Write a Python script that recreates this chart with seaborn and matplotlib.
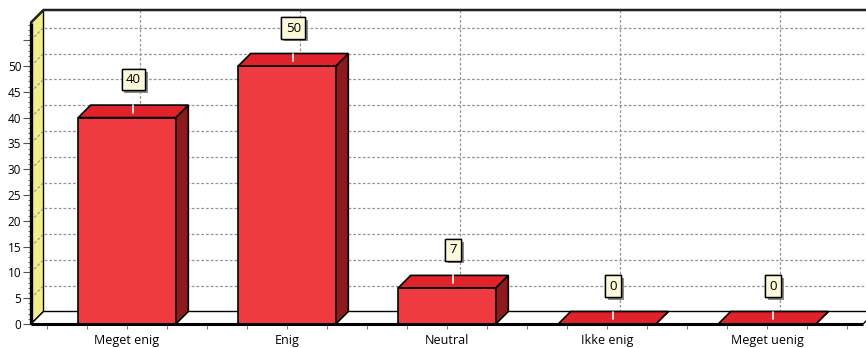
import matplotlib
matplotlib.use("Agg")
import matplotlib.pyplot as plt
from matplotlib.patches import Polygon
import matplotlib.patheffects as pe
import seaborn as sns
import pandas as pd
import numpy as np

# Survey answers
categories = ["Meget enig", "Enig", "Neutral", "Ikke enig", "Meget uenig"]
counts = [40, 50, 7, 0, 0]
y_ticks = [0, 5, 10, 15, 20, 25, 30, 35, 40, 45, 50, 55]
y_tick_labels = ["0", "5", "10", "15", "20", "25", "30", "35", "40", "45", "50", ""]

df = pd.DataFrame({"svar": categories, "antal": counts})

sns.set_theme(style="white")
plt.rcParams["font.family"] = ["Open Sans", "DejaVu Sans"]

FRONT = "#EF3A42"
TOP = "#E0232A"
SIDE = "#8C1A1F"
WALL = "#F3EE8C"
GRID = "#959595"

W, H = 866, 348
fig = plt.figure(figsize=(W / 100, H / 100), dpi=100)
fig.patch.set_facecolor("white")

# axes: front-left corner of the floor at pixel (31, 324)
px_per_x = 160.0
px_per_y = 5.16
x_lo, x_hi = -0.6, 4.6
ax_w = (x_hi - x_lo) * px_per_x
ax_h = 314
y_top = ax_h / px_per_y
ax = fig.add_axes([31 / W, (H - 324) / H, ax_w / W, ax_h / H])
ax.set_facecolor("none")

# depth of the 3D effect, in data units
dx = 12.5 / px_per_x
dy = 12.5 / px_per_y
wall_top = y_top - dy  # value at the top of the back wall

sns.barplot(data=df, x="svar", y="antal", ax=ax, color=FRONT, saturation=1,
            width=0.61, edgecolor="black", linewidth=1.2, zorder=5)

ax.set_xlim(x_lo, x_hi)
ax.set_ylim(0, y_top)
for s in ax.spines.values():
    s.set_visible(False)
ax.set_xlabel("")
ax.set_ylabel("")

# side wall (yellow)
ax.add_patch(Polygon([(x_lo, 0), (x_lo + dx, dy), (x_lo + dx, y_top), (x_lo, wall_top)],
                     closed=True, fc=WALL, ec="black", lw=1.0, zorder=1, clip_on=False))

# gridlines on side wall and back wall
x_far = x_hi + dx + 0.2
dash = (0, (2.2, 1.6))
for v in y_ticks[1:]:
    ax.plot([x_lo, x_lo + dx], [v, v + dy], color=GRID, lw=0.9,
            ls=dash, zorder=2, clip_on=False)
    ax.plot([x_lo + dx, x_far], [v + dy, v + dy], color=GRID, lw=0.9,
            ls=dash, zorder=2, clip_on=False)
for i in range(len(categories)):
    ax.plot([i + dx, i + dx], [dy, y_top], color=GRID, lw=0.9,
            ls=dash, zorder=2, clip_on=False)

# top edge of back wall
ax.plot([x_lo, x_lo + dx, x_far], [wall_top, y_top, y_top], color="#222222",
        lw=1.8, zorder=3, clip_on=False, solid_joinstyle="miter")

# floor
ax.add_patch(Polygon([(x_lo, 0), (x_hi, 0), (x_hi + dx, dy), (x_lo + dx, dy)],
                     closed=True, fc="white", ec="black", lw=1.0, zorder=3, clip_on=False))
ax.plot([x_lo, x_hi], [0, 0], color="black", lw=2.2, zorder=6, clip_on=False,
        solid_capstyle="butt")
# front vertical axis line
ax.plot([x_lo, x_lo], [0, wall_top], color="black", lw=2.4, zorder=6, clip_on=False,
        solid_capstyle="butt")

# 3D faces of each bar and the value labels
shadow = [pe.withSimplePatchShadow(offset=(2, -2), shadow_rgbFace="#8a8a8a", alpha=1.0),
          pe.Normal()]
for p, v in zip(ax.patches, counts):
    x0, w, h = p.get_x(), p.get_width(), p.get_height()
    ax.add_patch(Polygon([(x0 + w, 0), (x0 + w + dx, dy), (x0 + w + dx, h + dy), (x0 + w, h)],
                         closed=True, fc=SIDE, ec="black", lw=1.2, zorder=5))
    ax.add_patch(Polygon([(x0, h), (x0 + w, h), (x0 + w + dx, h + dy), (x0 + dx, h + dy)],
                         closed=True, fc=TOP, ec="black", lw=1.2, zorder=5))
    cx = x0 + w / 2 + dx / 2
    ax.plot([cx, cx], [h + dy * 0.38, h + dy], color="white", lw=1.2, zorder=7)
    t = ax.annotate(str(v), xy=(cx, h), xytext=(0, 38), textcoords="offset pixels",
                    ha="center", va="center", fontsize=9.5, color="black", zorder=9,
                    bbox=dict(boxstyle="square,pad=0.32", fc="#FBF9DA", ec="black", lw=1))
    t.get_bbox_patch().set_path_effects(shadow)

# ticks
ax.set_yticks(y_ticks)
ax.set_yticklabels(y_tick_labels)
ax.set_yticks(np.arange(0, 59, 1), minor=True)
ax.tick_params(axis="y", which="major", left=True, length=5.5, width=0.8, color="#555555",
               labelsize=8.5, pad=1.5, labelcolor="black")
ax.tick_params(axis="y", which="minor", left=True, length=2.5, width=0.7, color="#666666")

ax.set_xticks(range(len(categories)))
ax.set_xticklabels(categories)
ax.set_xticks(np.arange(-0.5, 4.51, 0.25), minor=True)
ax.tick_params(axis="x", which="major", bottom=True, length=3.5, width=0.7, color="#777777",
               labelsize=9, pad=3.5, labelcolor="black")
ax.tick_params(axis="x", which="minor", bottom=True, length=3.5, width=0.7, color="#777777")

fig.savefig("out.png", dpi=100, facecolor="white")
